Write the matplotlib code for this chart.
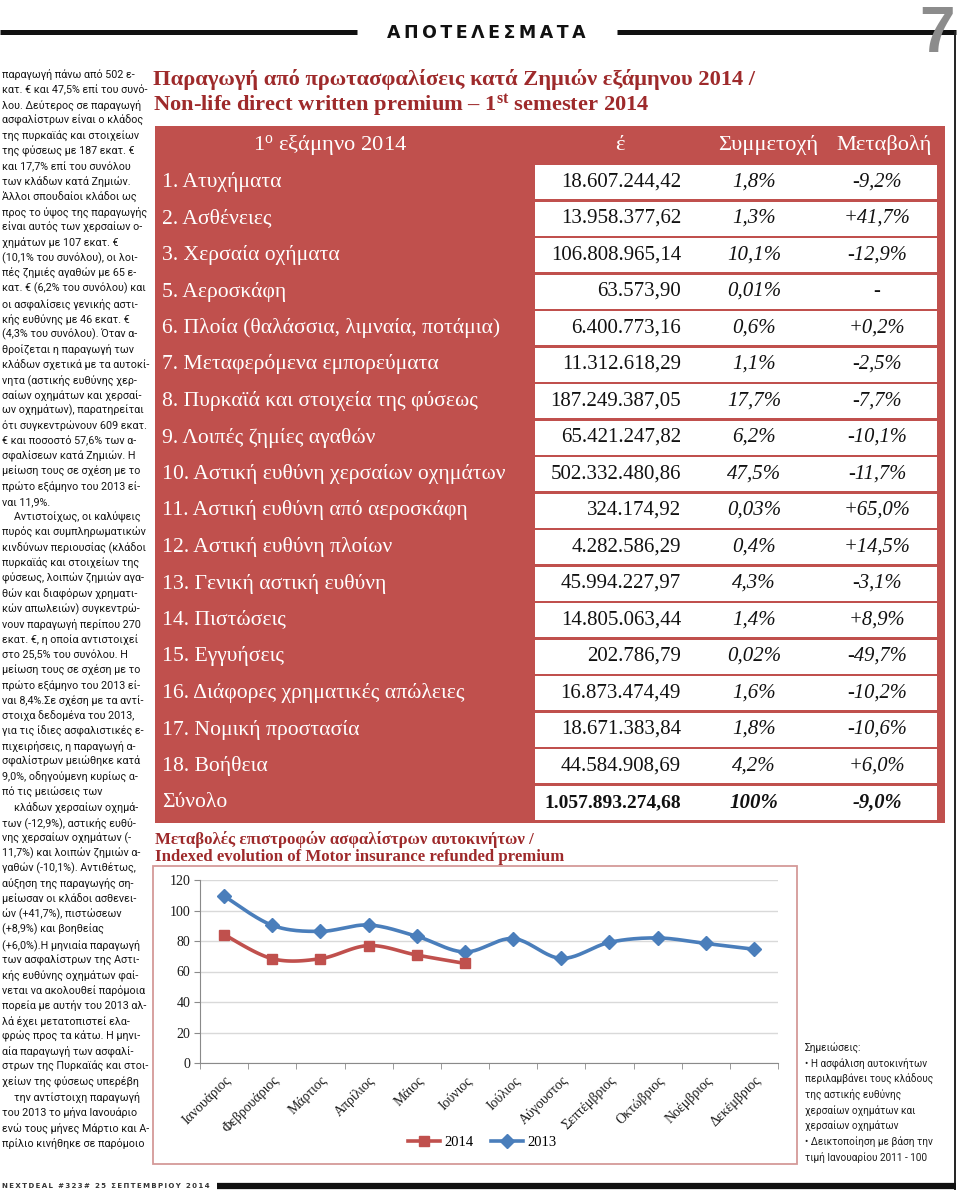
import matplotlib
matplotlib.use('Agg')
import matplotlib.pyplot as plt
from matplotlib.patches import Rectangle
from matplotlib.lines import Line2D
import numpy as np

plt.rcParams['mathtext.fontset'] = 'custom'
plt.rcParams['mathtext.rm'] = 'Liberation Serif'
plt.rcParams['mathtext.bf'] = 'Liberation Serif:bold'
plt.rcParams['mathtext.it'] = 'Liberation Serif:italic'

# ---------------- DATA ----------------
table_title = ['Παραγωγή από πρωτασφαλίσεις κατά Ζημιών εξάμηνου 2014 /',
               'Non-life direct written premium – 1$^{\\mathbf{st}}$ semester 2014']
header_labels = ['1$^{\\rm o}$ εξάμηνο 2014', 'έ', 'Συμμετοχή', 'Μεταβολή']
row_labels = ['1. Ατυχήματα', '2. Ασθένειες', '3. Χερσαία οχήματα', '5. Αεροσκάφη',
              '6. Πλοία (θαλάσσια, λιμναία, ποτάμια)', '7. Μεταφερόμενα εμπορεύματα',
              '8. Πυρκαϊά και στοιχεία της φύσεως', '9. Λοιπές ζημίες αγαθών',
              '10. Αστική ευθύνη χερσαίων οχημάτων', '11. Αστική ευθύνη από αεροσκάφη',
              '12. Αστική ευθύνη πλοίων', '13. Γενική αστική ευθύνη', '14. Πιστώσεις',
              '15. Εγγυήσεις', '16. Διάφορες χρηματικές απώλειες', '17. Νομική προστασία',
              '18. Βοήθεια', 'Σύνολο']
amounts = ['18.607.244,42', '13.958.377,62', '106.808.965,14', '63.573,90', '6.400.773,16',
           '11.312.618,29', '187.249.387,05', '65.421.247,82', '502.332.480,86', '324.174,92',
           '4.282.586,29', '45.994.227,97', '14.805.063,44', '202.786,79', '16.873.474,49',
           '18.671.383,84', '44.584.908,69', '1.057.893.274,68']
shares = ['1,8%', '1,3%', '10,1%', '0,01%', '0,6%', '1,1%', '17,7%', '6,2%', '47,5%', '0,03%',
          '0,4%', '4,3%', '1,4%', '0,02%', '1,6%', '1,8%', '4,2%', '100%']
changes = ['-9,2%', '+41,7%', '-12,9%', '-', '+0,2%', '-2,5%', '-7,7%', '-10,1%', '-11,7%',
           '+65,0%', '+14,5%', '-3,1%', '+8,9%', '-49,7%', '-10,2%', '-10,6%', '+6,0%', '-9,0%']

chart_title = ['Μεταβολές επιστροφών ασφαλίστρων αυτοκινήτων /',
               'Indexed evolution of Motor insurance refunded premium']
months = ['Ιανουάριος', 'Φεβρουάριος', 'Μάρτιος', 'Απρίλιος', 'Μάιος', 'Ιούνιος',
          'Ιούλιος', 'Αύγουστος', 'Σεπτέμβριος', 'Οκτώβριος', 'Νοέμβριος', 'Δεκέμβριος']
index_2014 = [84.2, 68.4, 68.4, 77.0, 70.8, 65.3]
index_2013 = [109.5, 90.3, 86.3, 90.5, 83.1, 72.8, 81.6, 68.6, 79.1, 82.0, 78.4, 74.6]
y_ticks = [0, 20, 40, 60, 80, 100, 120]
series_names = ['2014', '2013']

body_lines = [
    'παραγωγή πάνω από 502 ε-', 'κατ. € και 47,5% επί του συνό-', 'λου. Δεύτερος σε παραγωγή',
    'ασφαλίστρων είναι ο κλάδος', 'της πυρκαϊάς και στοιχείων', 'της φύσεως με 187 εκατ. €',
    'και 17,7% επί του συνόλου', 'των κλάδων κατά Ζημιών.', 'Άλλοι σπουδαίοι κλάδοι ως',
    'προς το ύψος της παραγωγής', 'είναι αυτός των χερσαίων ο-', 'χημάτων με 107 εκατ. €',
    '(10,1% του συνόλου), οι λοι-', 'πές ζημιές αγαθών με 65 ε-', 'κατ. € (6,2% του συνόλου) και',
    'οι ασφαλίσεις γενικής αστι-', 'κής ευθύνης με 46 εκατ. €', '(4,3% του συνόλου). Όταν α-',
    'θροίζεται η παραγωγή των', 'κλάδων σχετικά με τα αυτοκί-', 'νητα (αστικής ευθύνης χερ-',
    'σαίων οχημάτων και χερσαί-', 'ων οχημάτων), παρατηρείται', 'ότι συγκεντρώνουν 609 εκατ.',
    '€ και ποσοστό 57,6% των α-', 'σφαλίσεων κατά Ζημιών. Η', 'μείωση τους σε σχέση με το',
    'πρώτο εξάμηνο του 2013 εί-', 'ναι 11,9%.', 'Αντιστοίχως, οι καλύψεις',
    'πυρός και συμπληρωματικών', 'κινδύνων περιουσίας (κλάδοι', 'πυρκαϊάς και στοιχείων της',
    'φύσεως, λοιπών ζημιών αγα-', 'θών και διαφόρων χρηματι-', 'κών απωλειών) συγκεντρώ-',
    'νουν παραγωγή περίπου 270', 'εκατ. €, η οποία αντιστοιχεί', 'στο 25,5% του συνόλου. Η',
    'μείωση τους σε σχέση με το', 'πρώτο εξάμηνο του 2013 εί-', 'ναι 8,4%.Σε σχέση με τα αντί-',
    'στοιχα δεδομένα του 2013,', 'για τις ίδιες ασφαλιστικές ε-', 'πιχειρήσεις, η παραγωγή α-',
    'σφαλίστρων μειώθηκε κατά', '9,0%, οδηγούμενη κυρίως α-', 'πό τις μειώσεις των',
    'κλάδων χερσαίων οχημά-', 'των (-12,9%), αστικής ευθύ-', 'νης χερσαίων οχημάτων (-',
    '11,7%) και λοιπών ζημιών α-', 'γαθών (-10,1%). Αντιθέτως,', 'αύξηση της παραγωγής ση-',
    'μείωσαν οι κλάδοι ασθενει-', 'ών (+41,7%), πιστώσεων', '(+8,9%) και βοηθείας',
    '(+6,0%).Η μηνιαία παραγωγή', 'των ασφαλίστρων της Αστι-', 'κής ευθύνης οχημάτων φαί-',
    'νεται να ακολουθεί παρόμοια', 'πορεία με αυτήν του 2013 αλ-', 'λά έχει μετατοπιστεί ελα-',
    'φρώς προς τα κάτω. Η μηνι-', 'αία παραγωγή των ασφαλί-', 'στρων της Πυρκαϊάς και στοι-',
    'χείων της φύσεως υπερέβη', 'την αντίστοιχη παραγωγή', 'του 2013 το μήνα Ιανουάριο',
    'ενώ τους μήνες Μάρτιο και Α-', 'πρίλιο κινήθηκε σε παρόμοιο']
indented_lines = [29, 48, 67]

notes_lines = ['Σημειώσεις:', '• Η ασφάλιση αυτοκινήτων', 'περιλαμβάνει τους κλάδους',
               'της αστικής ευθύνης', 'χερσαίων οχημάτων και', 'χερσαίων οχημάτων',
               '• Δεικτοποίηση με βάση την', 'τιμή Ιανουαρίου 2011 - 100']

section_title = 'ΑΠΟΤΕΛΕΣΜΑΤΑ'
page_number = '7'
footer_text = 'NEXTDEAL #323# 25 ΣΕΠΤΕΜΒΡΙΟΥ 2014'

# ---------------- STYLE ----------------
RED = '#c0504d'
DARKRED = '#9e2a2b'
BLUE = '#4a7ebb'
SERIF = 'Liberation Serif'
BODY = 'Roboto'

fig = plt.figure(figsize=(9.6, 11.9), dpi=100)
ax0 = fig.add_axes([0, 0, 1, 1])
ax0.set_xlim(0, 960)
ax0.set_ylim(1190, 0)
ax0.axis('off')
R = fig.canvas.get_renderer()


def text_width(s, **kw):
    t = ax0.text(0, 0, s, **kw)
    w = t.get_window_extent(renderer=R).width
    t.remove()
    return w


def fit_size(s, width, base=10, **kw):
    return base * width / text_width(s, fontsize=base, **kw)


def spaced(s):
    return '\u2009'.join(list(s))

# ---------------- HEADER / FOOTER ----------------
ax0.plot([0, 357], [32, 32], color='#111111', lw=3.6, solid_capstyle='butt')
ax0.plot([617, 956], [32, 32], color='#111111', lw=3.6, solid_capstyle='butt')
ax0.plot([955, 955], [32, 1190], color='#222222', lw=1.4)
ax0.text(486, 33, spaced(section_title), ha='center', va='center', fontsize=12.5,
         fontweight='bold', family='DejaVu Sans', color='#111111')
ax0.text(937, 52, page_number, ha='center', va='baseline', fontsize=46, fontweight='bold',
         family=['Liberation Sans Narrow', 'Liberation Sans'], color='#8c8c8c')
ax0.plot([217, 956], [1186, 1186], color='#111111', lw=4.5, solid_capstyle='butt')
f_fs = fit_size(spaced(footer_text), 208, family='DejaVu Sans', fontweight='bold')
ax0.text(2, 1186, spaced(footer_text), ha='left', va='center', fontsize=f_fs,
         fontweight='bold', family='DejaVu Sans', color='#333333')

# ---------------- BODY TEXT ----------------
body_widths = np.array([text_width(s, fontsize=8, family=BODY) for s in body_lines])
body_fs = 8 * 143 / np.percentile(body_widths, 85)
for i, s in enumerate(body_lines):
    x = 2 + (12 if i in indented_lines else 0)
    w = body_widths[i] * body_fs / 8
    fs = body_fs if x + w <= 150 else body_fs * (150 - x) / w
    ax0.text(x, 75 + i * 15.26, s, ha='left', va='center', fontsize=fs,
             family=BODY, color='#151515')

# ---------------- TABLE ----------------
t1 = fit_size(table_title[0], 602, family=SERIF, fontweight='bold')
ax0.text(153, 80, table_title[0], ha='left', va='center', fontsize=t1, family=SERIF,
         fontweight='bold', color=DARKRED)
ax0.text(153, 106, table_title[1], ha='left', va='center', fontsize=t1, family=SERIF,
         fontweight='bold', color=DARKRED)

ax0.add_patch(Rectangle((155, 126), 790, 697, fc=RED, ec='none'))
lab_fs = fit_size(row_labels[8], 342, family=SERIF)
hdr_fs = lab_fs * 1.04
num_fs = fit_size(amounts[6], 130, family=SERIF)
tot_fs = fit_size(amounts[-1], 136, family=SERIF, fontweight='bold')
shr_fs = fit_size(shares[2], 54, family=SERIF, fontstyle='italic')
chg_fs = fit_size(changes[1], 67, family=SERIF, fontstyle='italic')
hdr_x = [330, 620, 768, 884]
for x, s in zip(hdr_x, header_labels):
    ax0.text(x, 145, s, ha='center', va='center', fontsize=hdr_fs, family=SERIF, color='white')

for i, lab in enumerate(row_labels):
    yc = 182 + i * 36.5
    total = (i == len(row_labels) - 1)
    ax0.add_patch(Rectangle((535, yc - 17), 402, 34, fc='white', ec='none'))
    ax0.text(162, yc, lab, ha='left', va='center', fontsize=lab_fs, family=SERIF, color='white')
    w = 'bold' if total else 'normal'
    ax0.text(681, yc, amounts[i], ha='right', va='center', fontsize=tot_fs if total else num_fs,
             family=SERIF, color='#111111', fontweight=w)
    ax0.text(754, yc, shares[i], ha='center', va='center', fontsize=shr_fs, family=SERIF,
             color='#111111', fontstyle='italic', fontweight=w)
    ax0.text(877, yc, changes[i], ha='center', va='center', fontsize=chg_fs, family=SERIF,
             color='#111111', fontstyle='italic', fontweight=w)

# ---------------- CHART ----------------
c1 = fit_size(chart_title[1], 412, family=SERIF, fontweight='bold')
ax0.text(155, 840, chart_title[0], ha='left', va='center', fontsize=c1, family=SERIF,
         fontweight='bold', color=DARKRED)
ax0.text(155, 857, chart_title[1], ha='left', va='center', fontsize=c1, family=SERIF,
         fontweight='bold', color=DARKRED)
ax0.add_patch(Rectangle((153, 866), 644, 298, fill=False, ec='#d49a98', lw=1.3))

ax = fig.add_axes([200 / 960, (1190 - 1063) / 1190, 578 / 960, 183 / 1190])
ax.set_xlim(0, 12)
ax.set_ylim(0, 120)
ax.set_yticks(y_ticks)
ax.set_yticklabels([str(v) for v in y_ticks], family=SERIF, fontsize=10, color='#1a1a1a')
ax.yaxis.grid(True, color='#d9d9d9', lw=1)
ax.set_axisbelow(True)
for sp in ['top', 'right']:
    ax.spines[sp].set_visible(False)
for sp in ['left', 'bottom']:
    ax.spines[sp].set_color('#8a8a8a')
ax.tick_params(axis='y', length=4, color='#8a8a8a', pad=3)
xc = np.arange(len(months)) + 0.5
ax.set_xticks(xc)
ax.set_xticklabels(months, rotation=45, ha='right', va='top', rotation_mode='anchor',
                   family=SERIF, fontsize=10, color='#1a1a1a')
ax.tick_params(axis='x', which='major', length=0, pad=8)
ax.set_xticks(np.arange(len(months) + 1), minor=True)
ax.tick_params(axis='x', which='minor', length=4, color='#8a8a8a')


def smooth(xs, ys, n=24):
    pts = np.column_stack([xs, ys]).astype(float)
    P = np.vstack([pts[0], pts, pts[-1]])
    out = []
    t = np.linspace(0, 1, n, endpoint=False)[:, None]
    for i in range(1, len(P) - 2):
        p0, p1, p2, p3 = P[i - 1], P[i], P[i + 1], P[i + 2]
        seg = 0.5 * ((2 * p1) + (-p0 + p2) * t + (2 * p0 - 5 * p1 + 4 * p2 - p3) * t ** 2
                     + (-p0 + 3 * p1 - 3 * p2 + p3) * t ** 3)
        out.append(seg)
    out.append(pts[-1:])
    return np.vstack(out)


s13 = smooth(xc[:len(index_2013)], index_2013)
ax.plot(s13[:, 0], s13[:, 1], color=BLUE, lw=2.6, zorder=3)
ax.plot(xc[:len(index_2013)], index_2013, ls='none', marker='D', ms=7.5, color=BLUE, zorder=4)
s14 = smooth(xc[:len(index_2014)], index_2014)
ax.plot(s14[:, 0], s14[:, 1], color=RED, lw=2.6, zorder=3)
ax.plot(xc[:len(index_2014)], index_2014, ls='none', marker='s', ms=7.5, color=RED, zorder=4)

handles = [Line2D([], [], color=RED, lw=2.6, marker='s', ms=7),
           Line2D([], [], color=BLUE, lw=2.6, marker='D', ms=7)]
fig.legend(handles, series_names, loc='center', bbox_to_anchor=(482 / 960, 1 - 1142 / 1190),
           ncol=2, frameon=False, prop={'family': SERIF, 'size': 10.5}, handlelength=2.2,
           columnspacing=1.2, handletextpad=0.3)

# ---------------- NOTES ----------------
n_fs = fit_size(notes_lines[2], 128, family=BODY)
for i, s in enumerate(notes_lines):
    ax0.text(805, 1048 + i * 15.6, s, ha='left', va='center', fontsize=n_fs, family=BODY,
             color='#1e1e1e')

fig.savefig('out.png', dpi=100)
